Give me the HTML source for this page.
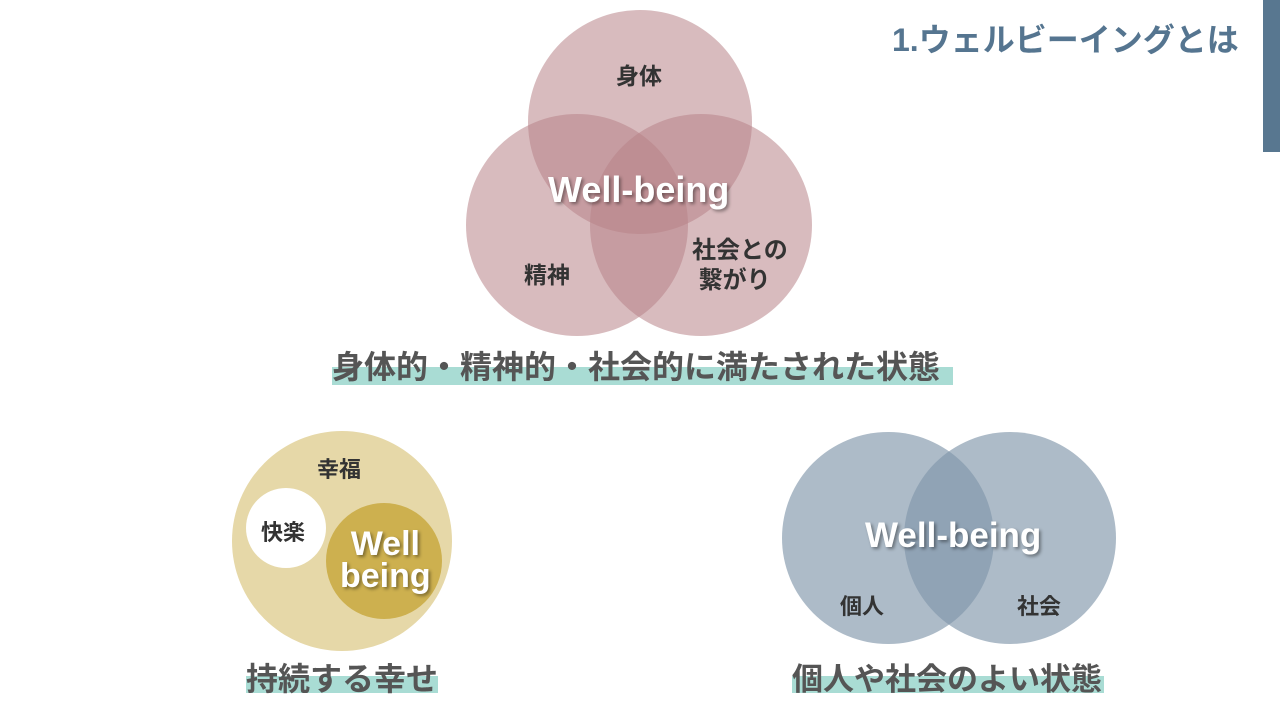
<!DOCTYPE html>
<html><head><meta charset="utf-8"><style>
body{margin:0;width:1280px;height:720px;background:#fff;overflow:hidden;position:relative;font-family:"Liberation Sans","Noto Sans CJK JP",sans-serif;font-weight:bold}
.t{position:absolute;white-space:nowrap}
.bar{position:absolute;background:#a9dcd4}
</style></head><body>
<div style="position:absolute;left:1263px;top:0;width:17px;height:152px;background:#587790"></div>
<div class="t" style="left:892px;top:15px;font-size:32px;color:#557590">1.ウェルビーイングとは</div>
<svg width="1280" height="720" style="position:absolute;left:0;top:0">
<g fill="#b88488" fill-opacity="0.55">
<circle cx="640" cy="122" r="112"/>
<circle cx="577" cy="225" r="111"/>
<circle cx="701" cy="225" r="111"/>
</g>
<circle cx="342" cy="541" r="110" fill="#e6d8a8"/>
<circle cx="286" cy="528" r="40" fill="#fff"/>
<circle cx="384" cy="561" r="58" fill="#cdb04f"/>
<g fill="#8196ab" fill-opacity="0.65">
<circle cx="888" cy="538" r="106"/>
<circle cx="1010" cy="538" r="106"/>
</g>
</svg>
<div class="bar" style="left:332px;top:367px;width:621px;height:18px"></div>
<div class="bar" style="left:246px;top:676px;width:192px;height:17px"></div>
<div class="bar" style="left:792px;top:676px;width:312px;height:17px"></div>
<div class="t" style="left:332px;top:342px;font-size:32px;color:#555">身体的・精神的・社会的に満たされた状態</div>
<div class="t" style="left:246px;top:654px;font-size:32px;color:#555">持続する幸せ</div>
<div class="t" style="left:792px;top:654px;font-size:31px;color:#555">個人や社会のよい状態</div>
<div class="t" style="left:616px;top:57px;font-size:23px;color:#333">身体</div>
<div class="t" style="left:524px;top:256px;font-size:23px;color:#333">精神</div>
<div class="t" style="left:692px;top:236px;font-size:24px;color:#333;line-height:30px">社会との<br>&nbsp;繋がり</div>
<div class="t" style="left:548px;top:169px;font-size:36px;color:#fff;text-shadow:2px 2px 3px rgba(0,0,0,.4)">Well-being</div>
<div class="t" style="left:317px;top:452px;font-size:22px;color:#333">幸福</div>
<div class="t" style="left:261px;top:515px;font-size:22px;color:#333">快楽</div>
<div class="t" style="left:340px;top:528px;font-size:34px;color:#fff;line-height:32px;text-align:center;text-shadow:2px 2px 3px rgba(0,0,0,.4)">Well<br>being</div>
<div class="t" style="left:865px;top:516px;font-size:35px;color:#fff;text-shadow:2px 2px 3px rgba(0,0,0,.4)">Well-being</div>
<div class="t" style="left:840px;top:589px;font-size:22px;color:#333">個人</div>
<div class="t" style="left:1017px;top:589px;font-size:22px;color:#333">社会</div>
</body></html>
